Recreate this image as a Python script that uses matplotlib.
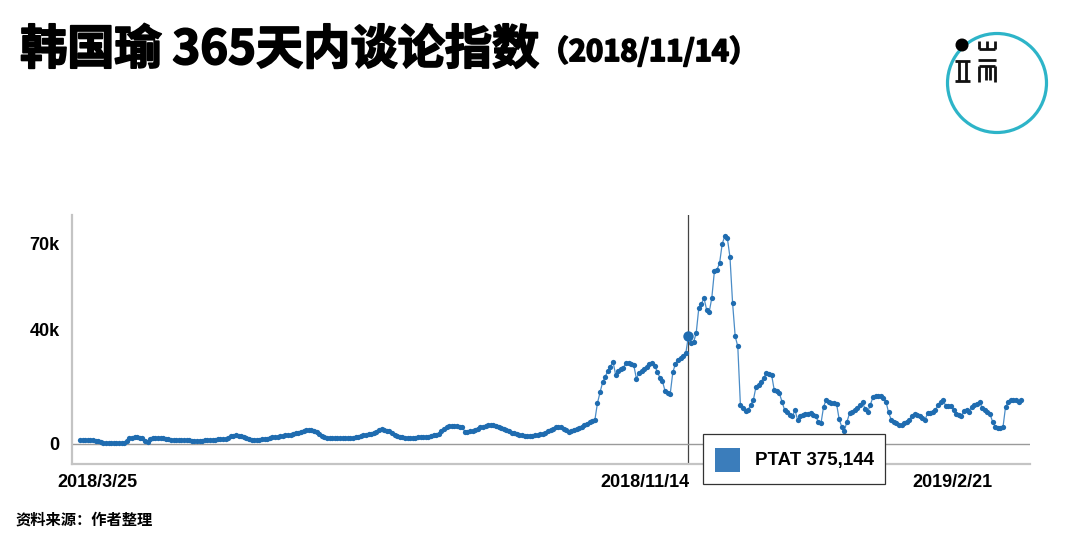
import matplotlib
matplotlib.use('Agg')
import matplotlib.pyplot as plt
import matplotlib.patheffects as pe
from matplotlib.patches import Circle, Rectangle
from matplotlib.lines import Line2D
from matplotlib.transforms import ScaledTranslation
import pandas as pd

plt.rcParams['font.family'] = ['Liberation Sans', 'Noto Sans CJK SC', 'DejaVu Sans']

# Texts
title_main = '韩国瑜 365天内谈论指数'
title_date = '（2018/11/14）'
source_note = '资料来源：作者整理'
series_name = 'PTAT'
series_total = 375144

# Daily discussion index (thousands), starting 2018/3/25
start_date = '2018-03-25'
highlight_date = '2018-11-14'
values_k = [
    1.3, 1.3, 1.4, 1.4, 1.3, 1.3, 1.2, 1.0, 0.6, 0.4,
    0.3, 0.3, 0.2, 0.2, 0.3, 0.3, 0.3, 0.4, 1.2, 2.0,
    2.2, 2.3, 2.3, 2.2, 2.0, 1.0, 0.8, 1.6, 2.0, 2.1,
    2.2, 2.1, 2.0, 1.8, 1.6, 1.5, 1.4, 1.4, 1.3, 1.3,
    1.3, 1.4, 1.3, 1.2, 1.1, 1.1, 1.2, 1.2, 1.3, 1.3,
    1.4, 1.5, 1.5, 1.6, 1.7, 1.8, 1.9, 2.2, 2.7, 2.9,
    3.0, 2.9, 2.8, 2.4, 2.0, 1.6, 1.4, 1.3, 1.4, 1.5,
    1.6, 1.8, 1.9, 2.1, 2.3, 2.5, 2.6, 2.7, 2.8, 3.0,
    3.2, 3.3, 3.5, 3.7, 3.8, 4.2, 4.6, 4.9, 5.0, 4.8,
    4.6, 4.2, 3.6, 2.8, 2.3, 2.1, 2.0, 2.0, 2.1, 2.1,
    2.0, 2.0, 2.1, 2.2, 2.1, 2.2, 2.4, 2.6, 2.9, 3.0,
    3.2, 3.4, 3.6, 4.0, 4.3, 5.0, 5.1, 4.9, 4.7, 4.5,
    3.8, 3.3, 2.9, 2.5, 2.3, 2.2, 2.2, 2.1, 2.2, 2.2,
    2.3, 2.3, 2.4, 2.5, 2.6, 2.8, 3.0, 3.2, 3.6, 4.4,
    5.3, 6.0, 6.3, 6.4, 6.3, 6.3, 6.1, 6.0, 4.3, 4.3,
    4.6, 4.7, 5.0, 5.4, 5.8, 6.0, 6.3, 6.5, 6.6, 6.6,
    6.3, 5.9, 5.5, 5.2, 4.8, 4.4, 4.0, 3.7, 3.4, 3.2,
    3.0, 2.9, 2.8, 2.8, 2.9, 3.0, 3.2, 3.4, 3.5, 3.9,
    4.6, 5.0, 5.4, 5.8, 6.0, 5.8, 5.4, 4.8, 4.3, 4.6,
    5.0, 5.3, 5.6, 6.0, 6.6, 7.1, 7.6, 7.9, 8.2, 14.2,
    18.0, 21.5, 23.5, 25.5, 27.0, 28.8, 24.2, 25.5, 26.2, 26.7,
    28.3, 28.2, 27.9, 27.5, 22.8, 24.8, 25.5, 26.3, 27.0, 28.0,
    28.2, 27.4, 25.3, 23.2, 22.0, 18.6, 17.7, 17.4, 25.0, 28.0,
    29.5, 30.2, 30.8, 31.7, 37.6, 35.2, 35.6, 38.7, 47.5, 48.9,
    51.0, 46.9, 46.1, 51.0, 60.3, 60.9, 63.2, 69.9, 72.6, 71.8,
    65.2, 49.2, 37.6, 34.1, 13.7, 12.7, 11.6, 11.9, 13.7, 15.4,
    20.0, 20.7, 21.8, 23.2, 24.7, 24.4, 24.2, 18.9, 18.6, 17.7,
    14.8, 11.9, 11.3, 10.2, 9.6, 11.9, 8.4, 9.8, 10.2, 10.5,
    10.5, 10.7, 10.2, 9.6, 7.8, 7.2, 13.0, 15.4, 14.6, 14.4,
    14.2, 14.0, 8.6, 6.0, 4.7, 7.8, 10.7, 11.3, 11.9, 12.6,
    13.5, 14.5, 12.1, 11.3, 13.7, 16.4, 16.8, 16.8, 16.6, 16.0,
    14.8, 11.0, 8.5, 7.8, 7.2, 6.8, 6.6, 7.3, 7.8, 8.4,
    9.8, 10.5, 10.0, 9.6, 9.0, 8.4, 10.7, 10.7, 11.0, 11.9,
    13.5, 14.5, 15.2, 13.3, 13.3, 13.3, 12.0, 10.5, 10.2, 9.8,
    11.5, 12.0, 11.3, 13.0, 13.5, 14.0, 14.8, 12.5, 11.9, 11.3,
    10.5, 7.8, 6.0, 5.5, 5.5, 5.8, 13.0, 14.5, 15.2, 15.2,
    15.2, 14.8, 15.2,
]

x_tick_dates = ['2018-03-25', '2018-11-14', '2019-02-21']
x_tick_labels = ['2018/3/25', '2018/11/14', '2019/2/21']
y_ticks = [0, 40, 70]
y_tick_labels = ['0', '40k', '70k']

W, H = 1080, 540


def fx(px):
    return px / W


def fy(py):
    return 1 - py / H


fig = plt.figure(figsize=(W / 100, H / 100), dpi=100)
ax = fig.add_axes([fx(72), fy(464), fx(1030) - fx(72), fy(215) - fy(464)])

dates = pd.date_range(start_date, periods=len(values_k), freq='D')
hl = pd.Timestamp(highlight_date)
hl_idx = dates.get_loc(hl)

ax.plot(dates, values_k, color='#4a8cc7', lw=0.9, zorder=2)
ax.plot(dates, values_k, 'o', ms=3.8, color='#1f6cb0', mec='none', zorder=3)
ax.plot([hl], [values_k[hl_idx]], 'o', ms=7.5, color='#1f6cb0', mec='none', zorder=4)
ax.axvline(hl, color='#444444', lw=0.9, zorder=1)
ax.axhline(0, color='#9a9a9a', lw=1, zorder=1)

ax.set_xlim(dates[0] - pd.Timedelta(days=3.1), dates[0] + pd.Timedelta(days=365.4))
ax.set_ylim(-7, 80)

for side in ('top', 'right'):
    ax.spines[side].set_visible(False)
for side in ('left', 'bottom'):
    ax.spines[side].set_color('#c4c4c4')
    ax.spines[side].set_linewidth(1.6)

ax.set_yticks(y_ticks, y_tick_labels)
ax.set_xticks(pd.to_datetime(x_tick_dates), x_tick_labels)
ax.tick_params(axis='both', length=0, labelsize=13)
ax.tick_params(axis='y', pad=9)
ax.tick_params(axis='x', pad=7)
for lab in ax.get_yticklabels() + ax.get_xticklabels():
    lab.set_fontweight('bold')

# x label placement as in the original chart
x_offsets = [17, 1, 7]
x_align = ['center', 'right', 'center']
for lab, dx, ha in zip(ax.get_xticklabels(), x_offsets, x_align):
    lab.set_ha(ha)
    lab.set_transform(lab.get_transform() + ScaledTranslation(dx / 100, 0, fig.dpi_scale_trans))

# tooltip box
fig.add_artist(Rectangle((fx(703), fy(484)), fx(885) - fx(703), fy(434) - fy(484),
                         transform=fig.transFigure, facecolor='white',
                         edgecolor='#333333', lw=0.9, zorder=5))
fig.add_artist(Rectangle((fx(715), fy(472)), fx(740) - fx(715), fy(448) - fy(472),
                         transform=fig.transFigure, facecolor='#3b7dbb',
                         edgecolor='none', zorder=6))
fig.text(fx(755), fy(460), f'{series_name} {series_total:,}', fontsize=13.5,
         fontweight='bold', va='center', ha='left', zorder=7)

# title (stroke makes the bold heavier, like the original)
cjk = ['Noto Sans CJK SC', 'DejaVu Sans']
heavy = [pe.withStroke(linewidth=1.3, foreground='black')]
t1 = fig.text(fx(20), fy(50), title_main, fontsize=34, fontweight='bold',
              family=cjk, va='center', ha='left', path_effects=heavy)
renderer = fig.canvas.get_renderer()
bb = t1.get_window_extent(renderer=renderer)
fig.text(bb.x1 / W, fy(52), title_date, fontsize=21, fontweight='bold',
         family=cjk, va='center', ha='left', path_effects=heavy)

# footer
fig.text(fx(16), fy(520), source_note, fontsize=11, fontweight='bold',
         family=cjk, va='center', ha='left')

# logo
lax = fig.add_axes([fx(944), fy(136), fx(1050) - fx(944), fy(30) - fy(136)])
lax.set_xlim(944, 1050)
lax.set_ylim(136, 30)
lax.axis('off')
lax.add_patch(Circle((997, 83), 49.5, fill=False, ec='#2db4c8', lw=2.3, clip_on=False))
lax.add_patch(Circle((962, 45), 5.8, color='black', clip_on=False))
glyph_lines = [
    ((979, 995), (49, 49)), ((979, 979), (41, 49)), ((987, 987), (41, 49)), ((995, 995), (41, 49)),
    ((978, 996), (60, 60)), ((979, 979), (66, 82)), ((995, 995), (66, 82)),
    ((979, 995), (66, 66)), ((985.5, 985.5), (66, 80)), ((989.5, 989.5), (66, 80)),
    ((955, 970), (61, 61)), ((955, 970), (81, 81)), ((958.5, 958.5), (61, 81)), ((966, 966), (61, 81)),
]
for xs, ys in glyph_lines:
    lax.add_line(Line2D(xs, ys, color='#111111', lw=2.0, solid_capstyle='butt'))

fig.savefig('out.png', dpi=100)
